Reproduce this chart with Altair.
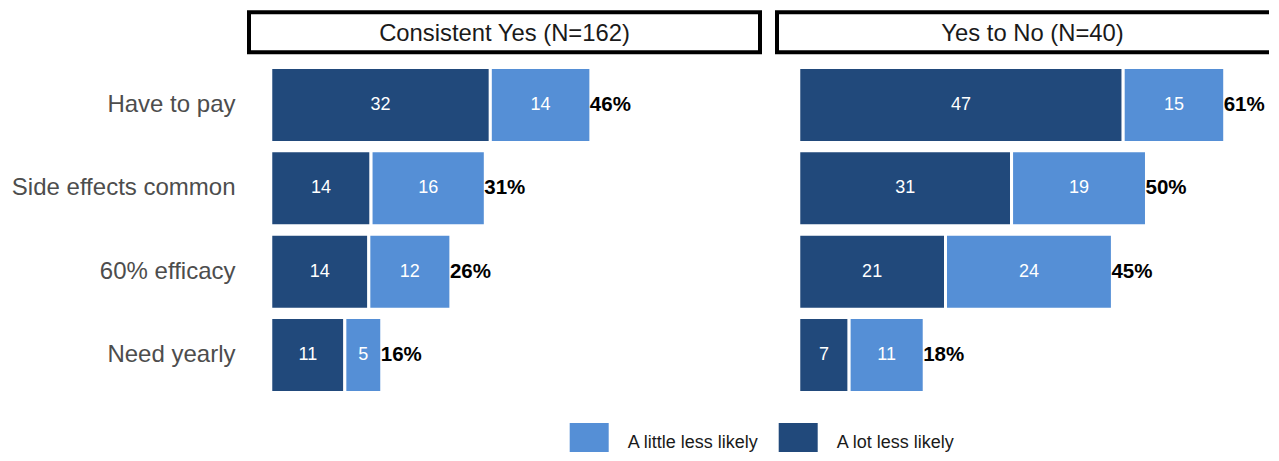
import altair as alt
import pandas as pd

# ---- data ----
items = ["Have to pay", "Side effects common", "60% efficacy", "Need yearly"]
responses = ["A little less likely", "A lot less likely"]
panel_titles = ["Consistent Yes (N=162)", "Yes to No (N=40)"]

lot_consistent = [31.57, 14.42, 14.10, 10.65]
little_consistent = [14.46, 16.43, 11.80, 5.31]
lot_yes_to_no = [46.65, 30.60, 21.10, 7.24]
little_yes_to_no = [14.60, 19.40, 24.00, 10.80]

colors = ["#558fd6", "#21497b"]

W, H = 511, 350
FONT = "Liberation Sans"

x_scale = alt.Scale(domain=[-3.13, 70.35], nice=False, zero=False)
y_scale = alt.Scale(paddingInner=0.1, paddingOuter=0.15)


def make_df(lot, little):
    rows = []
    for it, a, b in zip(items, lot, little):
        rows.append({"item": it, "response": "A lot less likely", "value": a, "ord": 0})
        rows.append({"item": it, "response": "A little less likely", "value": b, "ord": 1})
    return pd.DataFrame(rows)


def panel(title, lot, little, first):
    df = make_df(lot, little)
    if first:
        y_axis = alt.Axis(title=None, ticks=False, domain=False, labelFontSize=24,
                          labelColor="#4d4d4d", labelPadding=14, labelLimit=400,
                          labelFont=FONT)
        legend = alt.Legend(title=None, orient="none", legendX=320.7, legendY=368,
                            direction="horizontal", symbolType="square",
                            symbolSize=1521, symbolStrokeWidth=0, labelFontSize=18,
                            labelOffset=19, columnPadding=19, labelColor="#1a1a1a",
                            labelFont=FONT, padding=0, labelLimit=400)
    else:
        y_axis = None
        legend = None

    base = alt.Chart(df).transform_stack(
        stack="value", groupby=["item"], as_=["x0", "x1"],
        sort=[alt.SortField("ord", order="ascending")],
    ).transform_calculate(
        mid="(datum.x0 + datum.x1) / 2",
        lab="format(datum.value, '.0f')",
    )

    y_enc = alt.Y("item:N", sort=items, scale=y_scale, axis=y_axis)

    bars = base.mark_bar(stroke="white", strokeWidth=3).encode(
        x=alt.X("x0:Q", scale=x_scale, axis=None),
        x2="x1:Q",
        y=y_enc,
        color=alt.Color("response:N", scale=alt.Scale(domain=responses, range=colors),
                        legend=legend),
    )
    seg_labels = base.mark_text(color="white", fontSize=18, font=FONT,
                                baseline="middle").encode(
        x=alt.X("mid:Q", scale=x_scale, axis=None),
        y=y_enc,
        text="lab:N",
    )
    totals = alt.Chart(df).transform_aggregate(
        total="sum(value)", groupby=["item"]
    ).transform_calculate(
        lab="format(datum.total, '.0f') + '%'"
    ).mark_text(align="left", dx=-1, fontWeight="bold", fontSize=20.5, color="black",
                font=FONT, baseline="middle").encode(
        x=alt.X("total:Q", scale=x_scale, axis=None),
        y=y_enc,
        text="lab:N",
    )

    hdf = pd.DataFrame({"title": [title]})
    head_box = alt.Chart(hdf).mark_rect(fill="white", stroke="black", strokeWidth=4).encode(
        x=alt.value(0), x2=alt.value(W), y=alt.value(-42.7), y2=alt.value(-2.7)
    )
    head_text = alt.Chart(hdf).mark_text(fontSize=23.8, color="#1a1a1a", font=FONT,
                                         baseline="alphabetic").encode(
        x=alt.value(W / 2), y=alt.value(-14.5), text="title:N"
    )
    return alt.layer(bars, seg_labels, totals, head_box, head_text).properties(width=W, height=H)


p1 = panel(panel_titles[0], lot_consistent, little_consistent, True)
p2 = panel(panel_titles[1], lot_yes_to_no, little_yes_to_no, False)

chart = alt.hconcat(p1, p2, spacing=13).resolve_scale(color="shared").properties(
    padding={"left": 3, "top": 2, "right": -21, "bottom": -10}
).configure(font=FONT, view=alt.ViewConfig(stroke=None))

chart.save("out.html", embed_options={"renderer": "svg", "actions": False})
